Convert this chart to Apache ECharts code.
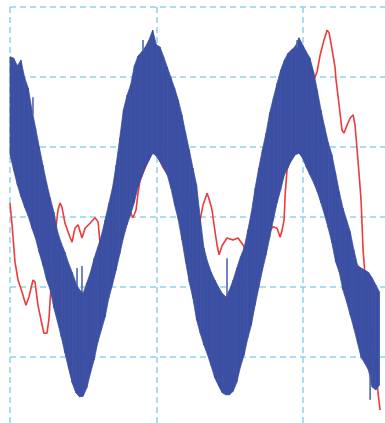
<!DOCTYPE html>
<html><head><meta charset="utf-8">
<script src="https://cdn.jsdelivr.net/npm/echarts@6.0.0/dist/echarts.min.js"></script>
<style>html,body{margin:0;padding:0;background:#fff}#c{width:385px;height:423px}</style>
</head><body><div id="c"></div><script>
// time (ms), 10 ms per division
const time = [0,0.25,0.5,0.75,1,1.25,1.5,1.75,2,2.25,
2.5,2.75,3,3.25,3.5,3.75,4,4.25,4.5,4.75,
5,5.25,5.5,5.75,6,6.25,6.5,6.75,7,7.25,
7.5,7.75,8,8.25,8.5,8.75,9,9.25,9.5,9.75,
10,10.25,10.5,10.75,11,11.25,11.5,11.75,12,12.25,
12.5,12.75,13,13.25,13.5,13.75,14,14.25,14.5,14.75,
15,15.25,15.5,15.75,16,16.25,16.5,16.75,17,17.25,
17.5,17.75,18,18.25,18.5,18.75,19,19.25,19.5,19.75,
20,20.25,20.5,20.75,21,21.25,21.5,21.75,22,22.25,
22.5,22.75,23,23.25,23.5,23.75,24,24.25,24.5,24.75,
25,25.25];
// blue signal: upper and lower envelope of the noisy band (divisions)
const blueUpper = [2.29,2.27,2.16,2.24,1.99,1.84,1.53,1.27,1.00,0.74,
0.49,0.27,0.07,-0.21,-0.37,-0.50,-0.66,-0.79,-0.94,-1.04,
-1.09,-0.94,-0.79,-0.59,-0.43,-0.26,-0.04,0.19,0.41,0.74,
1.13,1.53,1.74,1.89,2.16,2.30,2.36,2.43,2.53,2.67,
2.46,2.43,2.29,2.14,1.99,1.84,1.67,1.46,1.20,0.96,
0.70,0.46,-0.01,-0.44,-0.64,-0.79,-0.90,-1.00,-1.09,-1.14,
-1.04,-0.90,-0.73,-0.57,-0.44,-0.19,0.07,0.41,0.70,0.96,
1.20,1.49,1.70,1.91,2.10,2.24,2.34,2.39,2.44,2.56,
2.46,2.36,2.27,2.07,1.81,1.53,1.29,1.06,0.89,0.63,
0.36,0.13,-0.04,-0.21,-0.47,-0.69,-0.73,-0.76,-0.79,-0.87,
-0.97,-1.07];
const blueLower = [0.89,0.67,0.46,0.29,0.14,0.01,-0.16,-0.31,-0.51,-0.69,
-0.90,-1.04,-1.30,-1.50,-1.71,-1.94,-2.16,-2.37,-2.51,-2.57,
-2.56,-2.44,-2.23,-2.04,-1.79,-1.61,-1.43,-1.16,-0.97,-0.76,
-0.53,-0.30,-0.11,0.04,0.21,0.43,0.57,0.71,0.81,0.91,
0.87,0.79,0.70,0.60,0.41,0.17,-0.04,-0.33,-0.64,-0.93,
-1.16,-1.47,-1.66,-1.83,-1.97,-2.13,-2.30,-2.41,-2.51,-2.54,
-2.54,-2.49,-2.36,-2.14,-1.97,-1.73,-1.54,-1.26,-1.01,-0.76,
-0.54,-0.29,-0.04,0.20,0.39,0.60,0.71,0.81,0.89,0.91,
0.84,0.71,0.60,0.49,0.36,0.20,0.03,-0.16,-0.37,-0.64,
-0.79,-1.04,-1.21,-1.40,-1.59,-1.80,-2.01,-2.09,-2.19,-2.43,
-2.47,-2.40];
// isolated noise spikes of the blue signal that stick out of the band
const spikeTime = [1.57, 4.58, 4.92, 9.09, 14.83, 19.62, 24.61];
const spikeFrom = [1.46, -0.97, -1.08, 2.38, -1.14, 2.42, -2.25];
const spikeTo   = [1.71, -0.73, -0.70, 2.53, -0.59, 2.53, -2.61];
// red signal
const redTime = [0,0.14,0.34,0.55,0.82,1.09,1.30,1.57,1.71,1.91,2.19,2.32,2.53,2.67,2.87,3.08,3.28,3.42,3.55,3.76,
4.10,4.24,4.44,4.65,4.92,5.13,5.47,5.81,6.02,6.15,6.70,7.38,7.86,8.20,8.41,8.61,8.75,8.89,9.23,9.57,
9.91,10.12,10.46,10.80,11.07,11.62,12.30,12.78,12.99,13.19,13.47,13.60,13.81,13.94,14.15,14.29,14.49,14.83,15.24,15.58,
15.93,16.13,16.75,17.43,17.98,18.25,18.46,18.59,18.73,18.80,18.93,19.14,19.62,20.16,20.71,20.98,21.19,21.46,21.67,21.81,
22.01,22.21,22.28,22.49,22.69,22.83,23.03,23.24,23.45,23.58,23.72,23.86,23.99,24.06,24.13,24.27,24.40,24.74,25.02,25.15,25.29];
const redValue = [0.20,-0.11,-0.64,-0.90,-1.07,-1.26,-1.14,-0.90,-0.93,-1.26,-1.54,-1.66,-1.66,-1.44,-0.76,-0.26,0.10,0.20,0.14,-0.09,
-0.29,-0.36,-0.16,-0.11,-0.30,-0.16,-0.09,-0.01,-0.07,-0.37,-0.50,-0.30,-0.07,0.07,-0.01,0.10,0.34,0.53,0.70,0.87,
0.96,0.86,0.71,0.60,0.50,0.31,0.17,0.03,-0.04,0.17,0.34,0.26,0.10,-0.11,-0.40,-0.54,-0.41,-0.30,-0.33,-0.30,
-0.40,-0.50,-0.47,-0.27,-0.14,-0.16,-0.29,-0.19,-0.04,0.31,0.67,0.81,1.03,1.39,1.93,2.07,2.31,2.53,2.67,2.63,
2.39,2.14,1.96,1.60,1.24,1.20,1.31,1.41,1.46,1.31,0.96,0.60,0.24,-0.11,-0.47,-0.86,-1.01,-1.61,-2.19,-2.51,-2.76];

// segments of the blue band: [t0, upper0, lower0, t1, upper1, lower1]
const bandSegments = time.slice(0, -1).map((t, i) =>
  [t, blueUpper[i], blueLower[i], time[i + 1], blueUpper[i + 1], blueLower[i + 1]]);
const spikeData = spikeTime.map((t, i) => [t, spikeFrom[i], spikeTo[i]]);
const redData = redTime.map((t, i) => [t, redValue[i]]);

const BLUE = '#3b4fa3';
const chart = echarts.init(document.getElementById('c'), null, {renderer: 'canvas'});
const gridLine = {show: true, lineStyle: {color: '#8fd4ea', width: 1.5, type: [6, 4]}};
chart.setOption({
  animation: false,
  backgroundColor: '#ffffff',
  grid: {left: 10, top: 7, width: 439, height: 420, containLabel: false, outerBoundsMode: 'none'},
  xAxis: {type: 'value', min: 0, max: 30, interval: 10,
    axisLine: {show: false}, axisTick: {show: false}, axisLabel: {show: false}, splitLine: gridLine},
  yAxis: {type: 'value', min: -3, max: 3, interval: 1,
    axisLine: {show: false}, axisTick: {show: false}, axisLabel: {show: false}, splitLine: gridLine},
  series: [
    {type: 'line', data: redData, symbol: 'none', z: 2,
     lineStyle: {color: '#ee3a3a', width: 1.6}},
    {type: 'custom', z: 3, data: bandSegments,
     encode: {x: [0, 3], y: [1, 2, 4, 5]},
     renderItem: function (params, api) {
       const a = api.coord([api.value(0), api.value(1)]);
       const b = api.coord([api.value(3), api.value(4)]);
       const c = api.coord([api.value(3), api.value(5)]);
       const d = api.coord([api.value(0), api.value(2)]);
       return {type: 'polygon', shape: {points: [a, b, c, d]},
         style: {fill: BLUE, stroke: BLUE, lineWidth: 0.8}};
     }},
    {type: 'custom', z: 3, data: spikeData,
     encode: {x: 0, y: [1, 2]},
     renderItem: function (params, api) {
       const p = api.coord([api.value(0), api.value(1)]);
       const q = api.coord([api.value(0), api.value(2)]);
       return {type: 'line', shape: {x1: p[0], y1: p[1], x2: q[0], y2: q[1]},
         style: {stroke: '#5565b2', lineWidth: 1.6}};
     }}
  ]
});
</script></body></html>
